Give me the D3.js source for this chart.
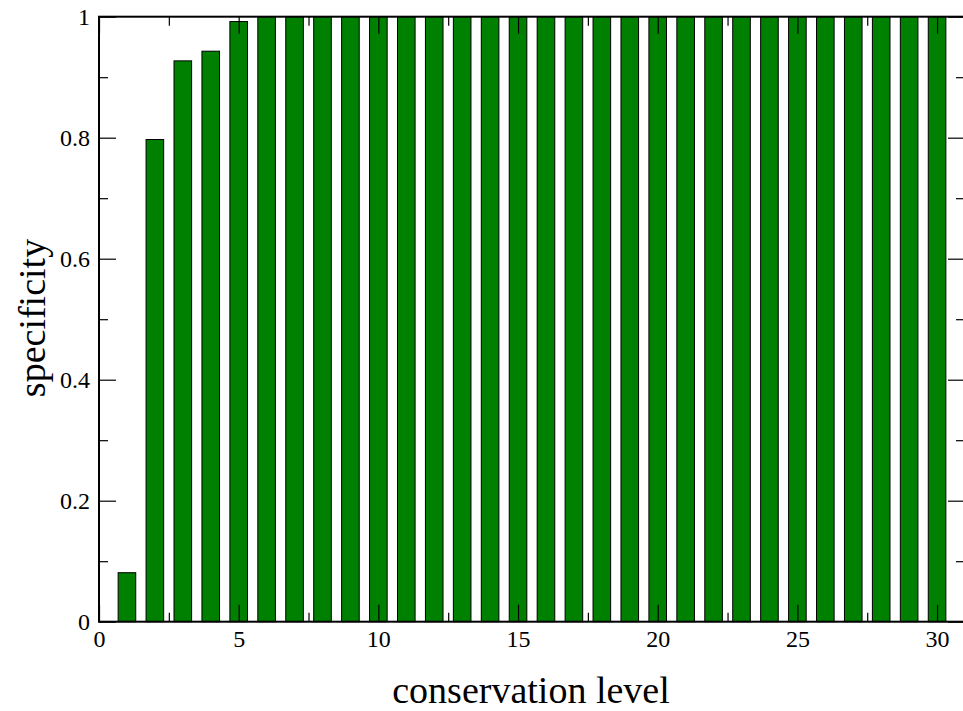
<!DOCTYPE html>
<html lang="en">
<head>
    <meta charset="UTF-8">
    <title>specificity vs conservation level</title>
    <script src="https://d3js.org/d3.v7.min.js"></script>
    <style>
        body { margin: 0; background: #fff; }
        svg { display: block; }
        .title { font-family: "Liberation Serif", "Times New Roman", serif; font-size: 38px; fill: #000; }
    </style>
</head>
<body>
    <svg width="963" height="711"></svg>
    <script>
        // conservation level 1..30
        const levels = d3.range(1, 31);
        const specificity = [0.081, 0.797, 0.927, 0.943, 0.992,
            1, 1, 1, 1, 1, 1, 1, 1, 1, 1, 1, 1, 1, 1, 1,
            1, 1, 1, 1, 1, 1, 1, 1, 1, 1];
        const xMajor = [0, 5, 10, 15, 20, 25, 30];
        const xMinor = [2.5, 7.5, 12.5, 17.5, 22.5, 27.5];
        const yMajor = [0, 0.2, 0.4, 0.6, 0.8, 1];
        const yMinor = [0.1, 0.3, 0.5, 0.7, 0.9];

        const svg = d3.select("svg");
        const m = { left: 99, right: 965, top: 16.7, bottom: 621.7 };
        const barW = 0.63;

        const x = d3.scaleLinear().domain([0, 31]).range([m.left, m.right]);
        const y = d3.scaleLinear().domain([0, 1]).range([m.bottom, m.top]);

        const data = levels.map((l, i) => ({ level: l, value: specificity[i] }));

        // bars
        svg.append("g")
            .selectAll("rect")
            .data(data)
            .enter().append("rect")
            .attr("x", d => x(d.level - barW / 2))
            .attr("width", x(barW) - x(0))
            .attr("y", d => y(d.value))
            .attr("height", d => y(0) - y(d.value))
            .attr("fill", "#008000")
            .attr("stroke", "#000")
            .attr("stroke-width", 1);

        function addAxis(axis, tx, ty) {
            const g = svg.append("g")
                .attr("transform", `translate(${tx},${ty})`)
                .call(axis);
            g.select(".domain").remove();
            g.selectAll(".tick line").attr("stroke-width", 1.2);
            g.selectAll(".tick text")
                .style("font-family", "'Liberation Serif', 'Times New Roman', serif")
                .style("font-size", "24px");
            return g;
        }

        // bottom and left, with labels
        addAxis(d3.axisBottom(x).tickValues(xMajor).tickSize(-17).tickPadding(8).tickFormat(d3.format("d")), 0, m.bottom);
        addAxis(d3.axisBottom(x).tickValues(xMinor).tickSize(-9).tickFormat(""), 0, m.bottom);
        addAxis(d3.axisLeft(y).tickValues(yMajor).tickSize(-17).tickPadding(9).tickFormat(d => d === 0 || d === 1 ? d3.format("d")(d) : d3.format(".1f")(d)), m.left, 0);
        addAxis(d3.axisLeft(y).tickValues(yMinor).tickSize(-9).tickFormat(""), m.left, 0);

        // top and right, ticks only
        addAxis(d3.axisTop(x).tickValues(xMajor).tickSize(-17).tickFormat(""), 0, m.top);
        addAxis(d3.axisTop(x).tickValues(xMinor).tickSize(-9).tickFormat(""), 0, m.top);
        addAxis(d3.axisRight(y).tickValues(yMajor).tickSize(-17).tickFormat(""), m.right, 0);
        addAxis(d3.axisRight(y).tickValues(yMinor).tickSize(-9).tickFormat(""), m.right, 0);

        // frame
        svg.append("rect")
            .attr("x", m.left).attr("y", m.top)
            .attr("width", m.right - m.left).attr("height", m.bottom - m.top)
            .attr("fill", "none")
            .attr("stroke", "#000")
            .attr("stroke-width", 2);

        svg.append("text")
            .attr("class", "title")
            .attr("x", 531)
            .attr("y", 703)
            .attr("text-anchor", "middle")
            .text("conservation level");

        svg.append("text")
            .attr("class", "title")
            .attr("transform", "translate(45,318) rotate(-90)")
            .attr("text-anchor", "middle")
            .text("specificity");
    </script>
</body>
</html>
